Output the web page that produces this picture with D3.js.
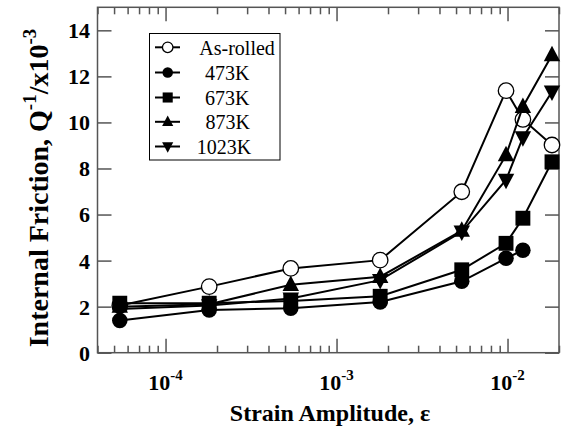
<!DOCTYPE html>
<html><head><meta charset="utf-8">
<script src="https://cdn.jsdelivr.net/npm/d3@7"></script>
<style>body{margin:0;background:#fff}svg{display:block}</style>
</head><body>
<script>
const strain = [5.4e-5, 1.8e-4, 5.4e-4, 1.8e-3, 5.4e-3, 9.8e-3, 1.23e-2, 1.82e-2];
const asRolled = [2.05, 2.87, 3.66, 4.02, 6.99, 11.38, 10.13, 9.02];
const k473 = [1.4, 1.85, 1.93, 2.2, 3.1, 4.1, 4.45];
const k673 = [2.15, 2.15, 2.25, 2.45, 3.6, 4.75, 5.84, 8.29];
const k873 = [2.0, 2.1, 2.95, 3.3, 5.3, 8.58, 10.68, 12.93];
const k1023 = [1.9, 2.05, 2.35, 3.15, 5.25, 7.5, 9.35, 11.33];
const seriesNames = ["As-rolled", "473K", "673K", "873K", "1023K"];
const yTicks = [0, 2, 4, 6, 8, 10, 12, 14];
const xMajor = [1e-4, 1e-3, 1e-2];
const xExp = ["-4", "-3", "-2"];

(function () {
const W = 562, H = 434;
const svg = d3.select("body").append("svg").attr("width", W).attr("height", H);
const x = d3.scaleLog().domain([4e-5, 2e-2]).range([97.5, 559]);
const y = d3.scaleLinear().domain([0, 15]).range([352.7, 7.3]);
const axisCol = "#555";

const minors = [];
[1e-5, 1e-4, 1e-3, 1e-2].forEach(d => { for (let k = 2; k <= 9; k++) { const v = d * k; if (v >= 4e-5 && v <= 2e-2) minors.push(v); } });

const gB = svg.append("g").attr("transform", `translate(0,${y(0)})`)
  .call(d3.axisBottom(x).tickValues(xMajor).tickSizeInner(-14).tickSizeOuter(0).tickFormat(""));
const gBm = svg.append("g").attr("transform", `translate(0,${y(0)})`)
  .call(d3.axisBottom(x).tickValues(minors).tickSizeInner(-7).tickSizeOuter(0).tickFormat(""));
const gT = svg.append("g").attr("transform", `translate(0,${y(15)})`)
  .call(d3.axisTop(x).tickValues(xMajor).tickSizeInner(-14).tickSizeOuter(0).tickFormat(""));
const gTm = svg.append("g").attr("transform", `translate(0,${y(15)})`)
  .call(d3.axisTop(x).tickValues(minors).tickSizeInner(-7).tickSizeOuter(0).tickFormat(""));
const gL = svg.append("g").attr("transform", `translate(${x(4e-5)},0)`)
  .call(d3.axisLeft(y).tickValues(yTicks).tickSizeInner(-14).tickSizeOuter(0).tickFormat(""));
const gR = svg.append("g").attr("transform", `translate(${x(2e-2)},0)`)
  .call(d3.axisRight(y).tickValues(yTicks).tickSizeInner(-14).tickSizeOuter(0).tickFormat(""));
[gB, gBm, gT, gTm, gL, gR].forEach(g => {
  g.selectAll("path.domain").remove();
  g.selectAll("line").attr("stroke", axisCol).attr("stroke-width", 1.5);
});
svg.append("rect").attr("x", x(4e-5)).attr("y", y(15))
  .attr("width", x(2e-2) - x(4e-5)).attr("height", y(0) - y(15))
  .attr("fill", "none").attr("stroke", axisCol).attr("stroke-width", 1.5);

const serif = "'Liberation Serif','Times New Roman',serif";
svg.append("g").selectAll("text").data(yTicks).join("text")
  .attr("x", 90).attr("y", d => y(d)).attr("dy", "0.36em")
  .attr("text-anchor", "end").attr("font-family", serif).attr("font-weight", "bold")
  .attr("font-size", 22).text(d => d);
xMajor.forEach((v, i) => {
  const t = svg.append("text").attr("x", x(v)).attr("y", 390)
    .attr("text-anchor", "middle").attr("font-family", serif).attr("font-weight", "bold")
    .attr("font-size", 22);
  t.append("tspan").text("10");
  t.append("tspan").attr("dy", -10).attr("font-size", 15).text(xExp[i]);
});
svg.append("text").attr("x", 330).attr("y", 421).attr("text-anchor", "middle")
  .attr("font-family", serif).attr("font-weight", "bold").attr("font-size", 24)
  .text("Strain Amplitude, ε");
const yt = svg.append("text").attr("transform", "translate(48,188) rotate(-90)")
  .attr("text-anchor", "middle").attr("font-family", serif).attr("font-weight", "bold").attr("font-size", 28);
yt.append("tspan").text("Internal Friction, Q");
yt.append("tspan").attr("dy", -12).attr("font-size", 19).text("-1");
yt.append("tspan").attr("dy", 12).text("/x10");
yt.append("tspan").attr("dy", -12).attr("font-size", 19).text("-3");

const series = [asRolled, k473, k673, k873, k1023];
const shapes = ["circleOpen", "circle", "square", "triUp", "triDown"];
function drawMarker(g, shape, cx, cy, s) {
  if (shape === "circleOpen") g.append("circle").attr("cx", cx).attr("cy", cy).attr("r", s * 0.5).attr("fill", "#fff").attr("stroke", "#000").attr("stroke-width", 1.3);
  else if (shape === "circle") g.append("circle").attr("cx", cx).attr("cy", cy).attr("r", s * 0.5).attr("fill", "#000");
  else if (shape === "square") g.append("rect").attr("x", cx - s * 0.48).attr("y", cy - s * 0.48).attr("width", s * 0.96).attr("height", s * 0.96).attr("fill", "#000");
  else if (shape === "triUp") g.append("path").attr("d", `M${cx},${cy - s * 0.6}L${cx + s * 0.53},${cy + s * 0.4}L${cx - s * 0.53},${cy + s * 0.4}Z`).attr("fill", "#000");
  else g.append("path").attr("d", `M${cx},${cy + s * 0.6}L${cx + s * 0.53},${cy - s * 0.4}L${cx - s * 0.53},${cy - s * 0.4}Z`).attr("fill", "#000");
}
const line = d3.line().x((d, i) => x(strain[i])).y(d => y(d));
series.forEach((vals, si) => {
  const g = svg.append("g");
  g.append("path").attr("d", line(vals)).attr("fill", "none").attr("stroke", "#000").attr("stroke-width", 2);
  vals.forEach((v, i) => drawMarker(g, shapes[si], x(strain[i]), y(v), 15.5));
});

const lg = svg.append("g");
lg.append("rect").attr("x", 149.5).attr("y", 33.5).attr("width", 130.5).attr("height", 126.5)
  .attr("fill", "#fff").attr("stroke", "#000").attr("stroke-width", 1);
const rowY = [47.3, 72.5, 97.5, 121.8, 146.5];
const textX = [199.3, 205, 205, 205.5, 196.7];
seriesNames.forEach((n, i) => {
  lg.append("line").attr("x1", 155).attr("x2", 180).attr("y1", rowY[i]).attr("y2", rowY[i]).attr("stroke", "#000").attr("stroke-width", 2);
  drawMarker(lg, shapes[i], 167.7, rowY[i], 10.5);
  lg.append("text").attr("x", textX[i]).attr("y", rowY[i]).attr("dy", "0.36em")
    .attr("font-family", serif).attr("font-size", 20).text(n);
});
})();
</script>
</body></html>
